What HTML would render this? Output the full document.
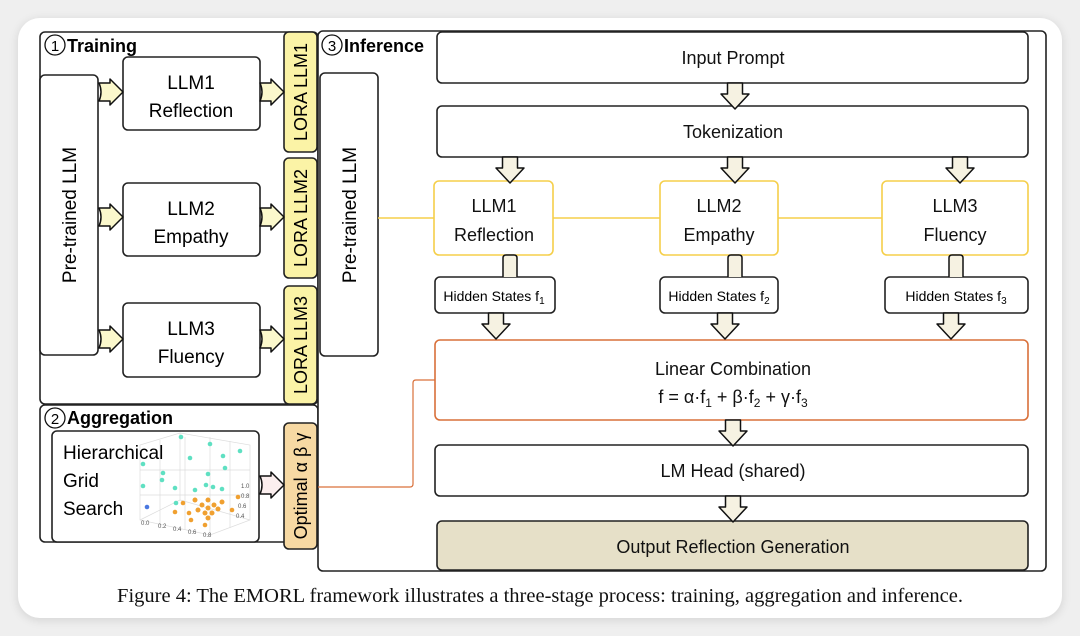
<!DOCTYPE html>
<html><head><meta charset="utf-8"><style>
html,body{margin:0;padding:0;background:#efefef;}
body{width:1080px;height:636px;overflow:hidden;position:relative;font-family:"Liberation Sans",sans-serif;}
.card{position:absolute;left:18px;top:18px;width:1044px;height:600px;background:#fff;border-radius:22px;box-shadow:0 2px 10px rgba(0,0,0,0.12);}
svg{position:absolute;left:0;top:0;}
</style></head><body>
<div class="card"></div>
<svg width="1080" height="636" viewBox="0 0 1080 636" font-family="Liberation Sans, sans-serif">
<defs>
<g id="adn"><path d="M-7.5,0 L7.5,0 L7.5,11 L14,11 L0,26 L-14,11 L-7.5,11 Z" fill="#f6f2e2" stroke="#111" stroke-width="1.5" stroke-linejoin="round"/></g>
<g id="arY"><path d="M0,-9 L11,-9 L11,-13 L24,0 L11,13 L11,9 L0,9 Q4,0 0,-9 Z" fill="#fbf8cc" stroke="#111" stroke-width="1.5" stroke-linejoin="round"/></g>
</defs>
<g fill="none" stroke="#222" stroke-width="1.6">
<rect x="40" y="32" width="278" height="372" rx="5" fill="#fff"/>
<rect x="40" y="405" width="278" height="137" rx="5" fill="#fff"/>
<rect x="318" y="31" width="728" height="540" rx="5" fill="#fff"/>
</g>
<circle cx="55" cy="45" r="10" fill="none" stroke="#111" stroke-width="1.3"/><text x="55" y="51" font-size="15" text-anchor="middle">1</text>
<text x="67" y="52" font-size="18" font-weight="bold">Training</text>
<circle cx="55" cy="418" r="10" fill="none" stroke="#111" stroke-width="1.3"/><text x="55" y="424" font-size="15" text-anchor="middle">2</text>
<text x="67" y="424" font-size="18" font-weight="bold">Aggregation</text>
<circle cx="332" cy="45" r="10" fill="none" stroke="#111" stroke-width="1.3"/><text x="332" y="51" font-size="15" text-anchor="middle">3</text>
<text x="344" y="52" font-size="18" font-weight="bold">Inference</text>
<g stroke="#222" stroke-width="1.6">
<rect x="40" y="75" width="58" height="280" rx="5" fill="#fff"/>
<rect x="123" y="57" width="137" height="73" rx="5" fill="#fff"/>
<rect x="123" y="183" width="137" height="73" rx="5" fill="#fff"/>
<rect x="123" y="303" width="137" height="74" rx="5" fill="#fff"/>
<rect x="284" y="32" width="33" height="120" rx="5" fill="#fbf3a6"/>
<rect x="284" y="158" width="33" height="120" rx="5" fill="#fbf3a6"/>
<rect x="284" y="286" width="33" height="118" rx="5" fill="#fbf3a6"/>
<rect x="284" y="423" width="33" height="126" rx="5" fill="#f7d9a3"/>
<rect x="52" y="431" width="207" height="111" rx="5" fill="#fff"/>
<rect x="320" y="73" width="58" height="283" rx="5" fill="#fff"/>
</g>
<text transform="translate(76,215) rotate(-90)" font-size="19" text-anchor="middle">Pre-trained LLM</text>
<text transform="translate(356,215) rotate(-90)" font-size="19" text-anchor="middle">Pre-trained LLM</text>
<g font-size="19" text-anchor="middle">
<text x="191" y="89">LLM1</text><text x="191" y="117">Reflection</text>
<text x="191" y="215">LLM2</text><text x="191" y="243">Empathy</text>
<text x="191" y="335">LLM3</text><text x="191" y="363">Fluency</text>
</g>
<g font-size="18" text-anchor="middle">
<text transform="translate(307,92) rotate(-90)">LORA LLM1</text>
<text transform="translate(307,218) rotate(-90)">LORA LLM2</text>
<text transform="translate(307,345) rotate(-90)">LORA LLM3</text>
<text transform="translate(307,486) rotate(-90)">Optimal α β γ</text>
</g>
<use href="#arY" x="99" y="92"/><use href="#arY" x="99" y="217"/><use href="#arY" x="99" y="339"/>
<use href="#arY" x="260" y="92"/><use href="#arY" x="260" y="217"/><use href="#arY" x="260" y="339"/>
<path d="M260,-9 L271,-9 L271,-13 L284,0 L271,13 L271,9 L260,9 Q264,0 260,-9 Z" transform="translate(0,485)" fill="#fbeeee" stroke="#111" stroke-width="1.5" stroke-linejoin="round"/>
<g stroke="#ddd" stroke-width="0.7" fill="none">
<path d="M140,445 L180,433 L250,445 L250,520 L210,535 L140,520 Z"/>
<path d="M140,470 L250,470 M140,495 L250,495 M160,440 L160,525 M185,437 L185,530 M210,437 L210,535 M230,441 L230,528 M180,433 L180,500 L140,520 M180,500 L250,520"/>
</g>
<g font-size="6" fill="#555"><text x="141" y="525">0.0</text><text x="158" y="528">0.2</text><text x="173" y="531">0.4</text><text x="188" y="534">0.6</text><text x="203" y="537">0.8</text><text x="241" y="488">1.0</text><text x="241" y="498">0.8</text><text x="238" y="508">0.6</text><text x="236" y="518">0.4</text></g>
<g fill="#5fe0c2">
<circle cx="181" cy="437" r="2.3"/><circle cx="210" cy="444" r="2.3"/><circle cx="240" cy="451" r="2.3"/><circle cx="143" cy="464" r="2.3"/><circle cx="163" cy="473" r="2.3"/><circle cx="190" cy="458" r="2.3"/><circle cx="208" cy="474" r="2.3"/><circle cx="223" cy="456" r="2.3"/><circle cx="225" cy="468" r="2.3"/><circle cx="143" cy="486" r="2.3"/><circle cx="162" cy="480" r="2.3"/><circle cx="175" cy="488" r="2.3"/><circle cx="206" cy="485" r="2.3"/><circle cx="213" cy="487" r="2.3"/><circle cx="195" cy="490" r="2.3"/><circle cx="222" cy="489" r="2.3"/><circle cx="176" cy="503" r="2.3"/>
</g>
<g fill="#f0a030">
<circle cx="208" cy="508" r="2.5"/><circle cx="202" cy="505" r="2.5"/><circle cx="214" cy="505" r="2.5"/><circle cx="205" cy="513" r="2.5"/><circle cx="212" cy="513" r="2.5"/><circle cx="208" cy="500" r="2.5"/><circle cx="218" cy="509" r="2.5"/><circle cx="198" cy="510" r="2.5"/><circle cx="208" cy="518" r="2.5"/><circle cx="222" cy="502" r="2.5"/><circle cx="195" cy="500" r="2.5"/>
<circle cx="183" cy="503" r="2.3"/><circle cx="189" cy="513" r="2.3"/><circle cx="175" cy="512" r="2.3"/><circle cx="191" cy="520" r="2.3"/><circle cx="205" cy="525" r="2.3"/><circle cx="232" cy="510" r="2.3"/><circle cx="238" cy="497" r="2.3"/>
</g>
<circle cx="147" cy="507" r="2.3" fill="#4a78e0"/>
<g font-size="19"><text x="63" y="459">Hierarchical</text><text x="63" y="487">Grid</text><text x="63" y="515">Search</text></g>
<path d="M378,218 L882,218" stroke="#f5cf4a" stroke-width="1.4" fill="none"/>
<path d="M318,487 L410,487 Q413,487 413,484 L413,383 Q413,380 416,380 L435,380" stroke="#d9703a" stroke-width="1.2" fill="none"/>
<g stroke-width="1.6">
<rect x="437" y="32" width="591" height="51" rx="5" fill="#fff" stroke="#222"/>
<rect x="437" y="106" width="591" height="51" rx="5" fill="#fff" stroke="#222"/>
<rect x="434" y="181" width="119" height="74" rx="5" fill="#fff" stroke="#f5cf4a"/>
<rect x="660" y="181" width="118" height="74" rx="5" fill="#fff" stroke="#f5cf4a"/>
<rect x="882" y="181" width="146" height="74" rx="5" fill="#fff" stroke="#f5cf4a"/>
<rect x="435" y="277" width="120" height="36" rx="5" fill="#fff" stroke="#222"/>
<rect x="660" y="277" width="118" height="36" rx="5" fill="#fff" stroke="#222"/>
<rect x="885" y="277" width="143" height="36" rx="5" fill="#fff" stroke="#222"/>
<rect x="435" y="340" width="593" height="80" rx="5" fill="#fff" stroke="#d9703a"/>
<rect x="435" y="445" width="593" height="51" rx="5" fill="#fff" stroke="#222"/>
<rect x="437" y="521" width="591" height="49" rx="5" fill="#e6e0c8" stroke="#222"/>
</g>
<g font-size="18" text-anchor="middle" fill="#111">
<text x="733" y="64">Input Prompt</text>
<text x="733" y="138">Tokenization</text>
<text x="494" y="212">LLM1</text><text x="494" y="241">Reflection</text>
<text x="719" y="212">LLM2</text><text x="719" y="241">Empathy</text>
<text x="955" y="212">LLM3</text><text x="955" y="241">Fluency</text>
<text x="733" y="375">Linear Combination</text>
<text x="733" y="403">f = α·f<tspan font-size="12" dy="4">1</tspan><tspan dy="-4"> + β·f</tspan><tspan font-size="12" dy="4">2</tspan><tspan dy="-4"> + γ·f</tspan><tspan font-size="12" dy="4">3</tspan></text>
<text x="733" y="477">LM Head (shared)</text>
<text x="733" y="553">Output Reflection Generation</text>
</g>
<g font-size="14" text-anchor="middle">
<text x="494" y="301">Hidden States f<tspan font-size="10" dy="3">1</tspan></text>
<text x="719" y="301">Hidden States f<tspan font-size="10" dy="3">2</tspan></text>
<text x="956" y="301">Hidden States f<tspan font-size="10" dy="3">3</tspan></text>
</g>
<use href="#adn" x="735" y="83"/>
<use href="#adn" x="510" y="157"/><use href="#adn" x="735" y="157"/><use href="#adn" x="960" y="157"/>
<g fill="#f6f2e2" stroke="#111" stroke-width="1.5">
<path d="M503,277 L503,258 Q503,255 506,255 L514,255 Q517,255 517,258 L517,277"/>
<path d="M728,277 L728,258 Q728,255 731,255 L739,255 Q742,255 742,258 L742,277"/>
<path d="M949,277 L949,258 Q949,255 952,255 L960,255 Q963,255 963,258 L963,277"/>
</g>
<use href="#adn" x="496" y="313"/><use href="#adn" x="725" y="313"/><use href="#adn" x="951" y="313"/>
<use href="#adn" x="733" y="420"/>
<use href="#adn" x="733" y="496"/>
<text x="540" y="602" font-family="Liberation Serif, serif" font-size="20.5" text-anchor="middle" fill="#111">Figure 4: The EMORL framework illustrates a three-stage process: training, aggregation and inference.</text>
</svg>
</body></html>
